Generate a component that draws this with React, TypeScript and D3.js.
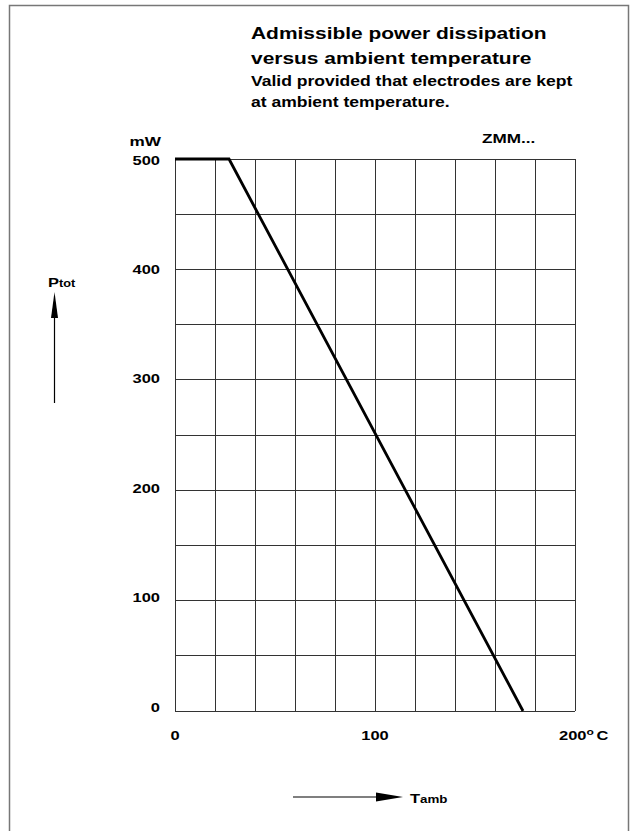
import React from "react";
import * as d3 from "d3";

// derating curve
const curveTemp = [0, 27, 174];
const curvePower = [500, 500, 0];
const powerLabels = [0, 100, 200, 300, 400, 500];
const tempLabels = [0, 100];
const titleLines = ["Admissible power dissipation", "versus ambient temperature"];
const noteLines = ["Valid provided that electrodes are kept", "at ambient temperature."];

const W = 635;
const H = 831;
const font = "'Liberation Sans', Arial, sans-serif";
// the scanned sheet is a bit wider than it is tall, so the lettering is too
const SX = 1.27;

type TProps = {
  x: number;
  y: number;
  size: number;
  anchor?: "start" | "middle" | "end";
  children: React.ReactNode;
};

function T({ x, y, size, anchor = "start", children }: TProps) {
  return (
    <text
      transform={`translate(${x},${y}) scale(${SX},1)`}
      fontSize={size}
      textAnchor={anchor}
      fontFamily={font}
      fontWeight="bold"
      fill="#000"
    >
      {children}
    </text>
  );
}

function App() {
  const x = d3.scaleLinear().domain([0, 200]).range([175, 575]);
  const y = d3.scaleLinear().domain([0, 500]).range([711, 159]);

  const pts: [number, number][] = curveTemp.map((t, i) => [t, curvePower[i]]);
  const line = d3
    .line<[number, number]>()
    .x((d) => x(d[0]))
    .y((d) => y(d[1]));

  return (
    <div style={{ position: "absolute", left: 0, top: 0 }}>
      <svg width={W} height={H} style={{ display: "block", background: "#fff" }}>
        {/* page frame, open at the bottom */}
        <path d={`M9.5,${H + 5} V5.5 H628.5 V${H + 5}`} fill="none" stroke="#777" strokeWidth={1.5} />

        {titleLines.map((t, i) => (
          <T key={t} x={251} y={39 + i * 25} size={16.5}>
            {t}
          </T>
        ))}
        {noteLines.map((t, i) => (
          <T key={t} x={251} y={86 + i * 21} size={13.8}>
            {t}
          </T>
        ))}
        <T x={482} y={143} size={13.5}>ZMM...</T>
        <T x={161} y={146} size={13.5} anchor="end">mW</T>

        {/* grid */}
        <g stroke="#333" strokeWidth={1} shapeRendering="crispEdges">
          {x.ticks(10).map((t) => (
            <line key={"v" + t} x1={x(t)} x2={x(t)} y1={y(0)} y2={y(500)} />
          ))}
          {y.ticks(10).map((t) => (
            <line key={"h" + t} x1={x(0)} x2={x(200)} y1={y(t)} y2={y(t)} />
          ))}
        </g>

        <path d={line(pts) || ""} fill="none" stroke="#000" strokeWidth={2.8} />

        {powerLabels.map((v) => (
          <T key={v} x={160} y={y(v) + 5.5 - ((500 - v) / 500) * 5} size={13} anchor="end">
            {v}
          </T>
        ))}
        {tempLabels.map((v) => (
          <T key={v} x={x(v)} y={740} size={13} anchor="middle">
            {v}
          </T>
        ))}
        <T x={559} y={740} size={13}>
          200
          <tspan dy={-5.5} fontSize={9.5}>o</tspan>
          <tspan dy={5.5} dx={2}>C</tspan>
        </T>

        {/* Ptot axis arrow */}
        <T x={48} y={287} size={13}>
          P<tspan fontSize={10}>tot</tspan>
        </T>
        <line x1={54.5} x2={54.5} y1={403} y2={315} stroke="#000" strokeWidth={1.2} />
        <path d="M54.5,292 L51,318 L58,318 Z" fill="#000" />

        {/* Tamb axis arrow */}
        <line x1={293} x2={380} y1={797} y2={797} stroke="#555" strokeWidth={1.5} />
        <path d="M403,797 L376,792.5 L376,801.5 Z" fill="#000" />
        <T x={410} y={803} size={13}>
          T<tspan fontSize={10.5}>amb</tspan>
        </T>
      </svg>
    </div>
  );
}

export default App;
